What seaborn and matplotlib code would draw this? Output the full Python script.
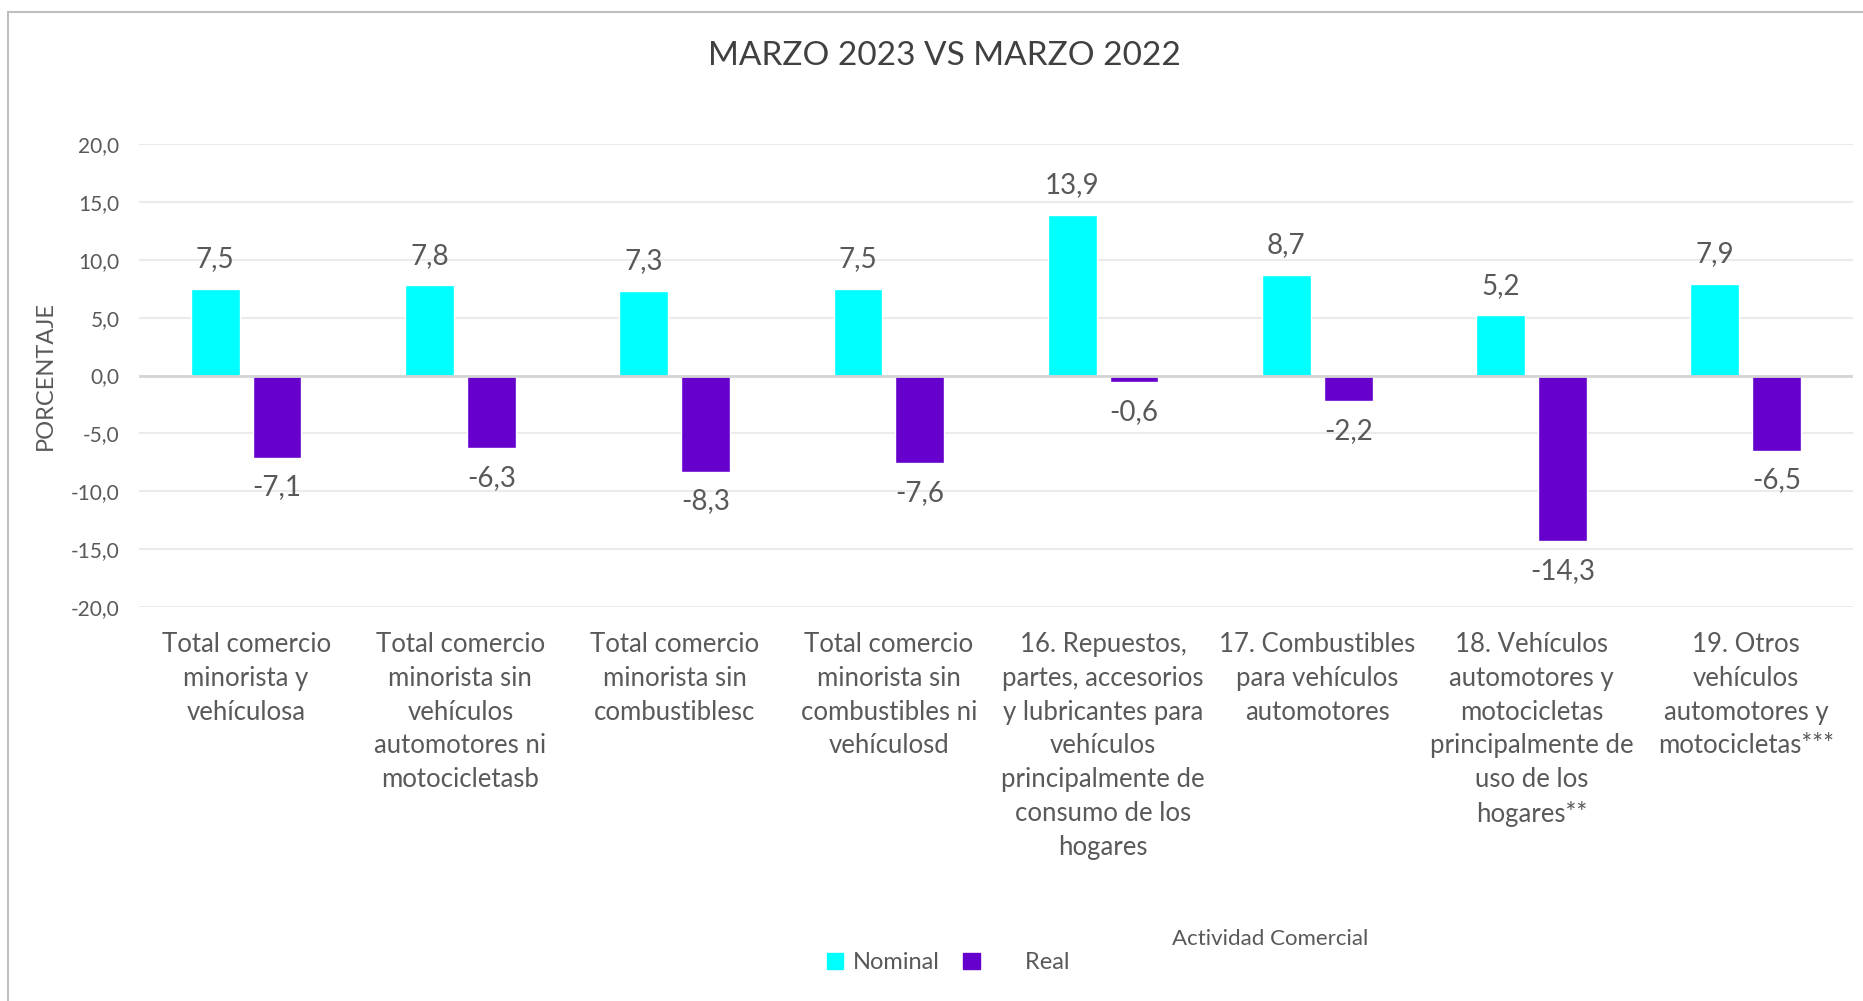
import numpy as np
import pandas as pd
import matplotlib
matplotlib.use("Agg")
import matplotlib.pyplot as plt
import seaborn as sns
from matplotlib.patches import Rectangle, Patch
from matplotlib.ticker import FuncFormatter

# Datos del gráfico
categorias = [
    "Total comercio\nminorista y\nvehículosa",
    "Total comercio\nminorista sin\nvehículos\nautomotores ni\nmotocicletasb",
    "Total comercio\nminorista sin\ncombustiblesc",
    "Total comercio\nminorista sin\ncombustibles ni\nvehículosd",
    "16. Repuestos,\npartes, accesorios\ny lubricantes para\nvehículos\nprincipalmente de\nconsumo de los\nhogares",
    "17. Combustibles\npara vehículos\nautomotores",
    "18. Vehículos\nautomotores y\nmotocicletas\nprincipalmente de\nuso de los\nhogares**",
    "19. Otros\nvehículos\nautomotores y\nmotocicletas***",
]
nominal = [7.5, 7.8, 7.3, 7.5, 13.9, 8.7, 5.2, 7.9]
real = [-7.1, -6.3, -8.3, -7.6, -0.6, -2.2, -14.3, -6.5]
series = ["Nominal", "Real"]
colores = ["#00FFFF", "#6600CC"]

df = pd.DataFrame({
    "Categoria": categorias * 2,
    "Valor": nominal + real,
    "Serie": ["Nominal"] * len(nominal) + ["Real"] * len(real),
})

sns.set_style("white")
plt.rcParams["font.family"] = ["Lato", "DejaVu Sans"]
gris = "#595959"

fig = plt.figure(figsize=(18.63, 10.01), dpi=100)
ax = fig.add_axes([0.0746, 0.3936, 0.92, 0.4625])

sns.barplot(data=df, x="Categoria", y="Valor", hue="Serie", palette=colores,
            width=0.577, gap=0.21, ax=ax, legend=False, saturation=1)

coma = lambda v: f"{v:.1f}".replace(".", ",")
for cont, vals in zip(ax.containers, [nominal, real]):
    ax.bar_label(cont, labels=[coma(v) for v in vals], padding=12,
                 fontsize=20, color=gris)

ax.set_ylim(-20, 20)
ax.set_yticks(np.arange(-20, 21, 5))
ax.yaxis.set_major_formatter(FuncFormatter(lambda v, p: coma(v)))
ax.grid(axis="y", color="#EBEBEB", linewidth=1.5)
ax.axhline(0, color="#D4D4D4", linewidth=2, zorder=1)
ax.set_axisbelow(True)
for s in ax.spines.values():
    s.set_visible(False)
ax.tick_params(axis="y", labelsize=15, colors=gris, length=0, pad=14)
ax.tick_params(axis="x", labelsize=18.5, colors=gris, length=0, pad=18)
for t in ax.get_xticklabels():
    t.set_linespacing(1.44)
ax.set_xlabel("")
ax.set_ylabel("PORCENTAJE", fontsize=17, color=gris, labelpad=11)
ax.set_xlim(-0.5, len(categorias) - 0.5)

fig.text(0.507, 0.944, "MARZO 2023 VS MARZO 2022", ha="center", va="center",
         fontsize=24, color="#404040")
fig.text(0.682, 0.062, "Actividad Comercial", ha="center", va="center",
         fontsize=16, color=gris)

handles = [Patch(color=c) for c in colores]
fig.legend(handles, ["Nominal", "      Real"], loc="center", bbox_to_anchor=(0.509, 0.038),
           ncol=2, frameon=False, fontsize=17, labelcolor=gris, handlelength=0.7,
           handleheight=0.7, handletextpad=0.4, columnspacing=1.0)

fig.patches.append(Rectangle((0.0043, -0.1), 1.2, 1.088, transform=fig.transFigure,
                             fill=False, edgecolor="#BFBFBF", linewidth=1.5))

fig.savefig("out.png", dpi=100, facecolor="white")
